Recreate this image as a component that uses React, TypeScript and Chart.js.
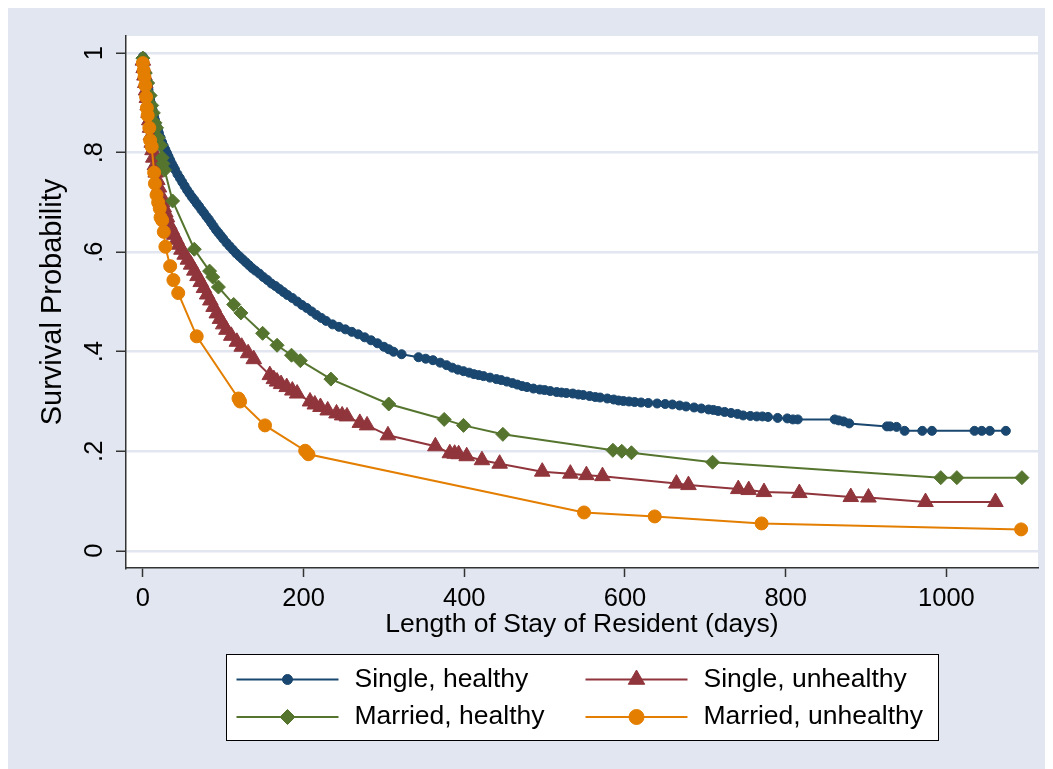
import React, { useEffect, useRef } from 'react';
import { Chart, registerables } from 'chart.js';

Chart.register(...registerables);

const FONT = "'Liberation Sans', Arial, Helvetica, sans-serif";

// ---- Axis ticks / titles ----
const xTicks = [0, 200, 400, 600, 800, 1000];
const yTicks = [0, 0.2, 0.4, 0.6, 0.8, 1];
const yTickLabels = ['0', '.2', '.4', '.6', '.8', '1'];
const xTitle = 'Length of Stay of Resident (days)';
const yTitle = 'Survival Probability';

// ---- Series names ----
const seriesNames = ['Single, healthy', 'Single, unhealthy', 'Married, healthy', 'Married, unhealthy'];

// ---- Single, healthy ----
const singleHealthyDays = [
  0, 1, 2, 3, 4, 5, 6, 7, 8, 9,
  10, 11, 12, 13, 14, 15, 16, 17, 18, 19,
  20, 22, 24, 26, 28, 30, 32, 34, 36, 38,
  40, 43, 46, 49, 52, 55, 58, 61, 64, 67,
  70, 73, 76, 79, 82, 85, 88, 91, 94, 97,
  100, 104, 108, 112, 116, 120, 124, 128, 132, 136,
  140, 145, 150, 155, 160, 165, 170, 175, 180, 186,
  192, 198, 204, 210, 216, 222, 228, 236, 244, 252,
  260, 268, 276, 284, 292, 300, 306, 312, 322, 343,
  352, 361, 370, 378, 385, 392, 399, 406, 412, 418,
  424, 432, 440, 446, 453, 460, 466, 472, 478, 486,
  494, 500, 507, 515, 521, 527, 535, 542, 548, 556,
  563, 569, 578, 586, 592, 598, 605, 612, 620, 629,
  640, 650, 659, 668, 676, 686, 695, 704, 710, 716,
  724, 732, 740, 747, 756, 764, 771, 778, 790, 802,
  809, 815, 861, 866, 872, 879, 926, 930, 938, 948,
  970, 982, 1035, 1044, 1054, 1074,
];
const singleHealthySurv = [
  0.993, 0.985, 0.975, 0.965, 0.955, 0.945, 0.935, 0.926, 0.917, 0.908,
  0.9, 0.893, 0.886, 0.879, 0.872, 0.866, 0.86, 0.854, 0.849, 0.844,
  0.839, 0.83, 0.821, 0.813, 0.806, 0.799, 0.792, 0.785, 0.778, 0.772,
  0.766, 0.757, 0.749, 0.741, 0.733, 0.725, 0.718, 0.711, 0.705, 0.698,
  0.692, 0.685, 0.679, 0.672, 0.666, 0.659, 0.652, 0.645, 0.639, 0.633,
  0.627, 0.619, 0.612, 0.605, 0.598, 0.592, 0.586, 0.58, 0.574, 0.568,
  0.563, 0.557, 0.55, 0.544, 0.537, 0.532, 0.526, 0.52, 0.514, 0.508,
  0.501, 0.494, 0.488, 0.481, 0.474, 0.468, 0.462, 0.455, 0.45, 0.445,
  0.44, 0.435, 0.429, 0.423, 0.417, 0.41, 0.405, 0.4, 0.395, 0.389,
  0.386, 0.383, 0.378, 0.373, 0.368, 0.364, 0.361, 0.358, 0.355, 0.353,
  0.351, 0.348, 0.345, 0.343, 0.34, 0.337, 0.334, 0.331, 0.329, 0.326,
  0.324, 0.323, 0.321, 0.319, 0.318, 0.317, 0.316, 0.314, 0.313, 0.311,
  0.309, 0.308, 0.306, 0.304, 0.302, 0.301, 0.3, 0.299, 0.298, 0.297,
  0.296, 0.295, 0.294, 0.292, 0.29, 0.288, 0.286, 0.284, 0.283, 0.281,
  0.279, 0.277, 0.275, 0.272, 0.271, 0.27, 0.27, 0.269, 0.267, 0.266,
  0.264, 0.264, 0.264, 0.262, 0.26, 0.256, 0.25, 0.25, 0.249, 0.241,
  0.241, 0.241, 0.241, 0.241, 0.241, 0.241,
];

// ---- Single, unhealthy ----
const singleUnhealthyDays = [
  0, 1, 2, 3, 4, 5, 6, 7, 8, 9, 10, 11, 12, 13,
  15, 16, 18, 20, 22, 24, 26, 28, 30,
  33, 36, 39, 42, 45, 48,
  52, 56, 60, 64, 68, 72, 76, 80, 84, 88, 92, 96, 100, 104,
  110, 117, 123, 131, 138,
  158, 163, 167, 172, 179, 186, 192,
  208, 214, 221, 230, 241, 248, 254,
  270, 279, 305,
  364, 382, 388, 393, 403, 422, 444,
  497, 532, 552, 572,
  664, 679, 741, 754, 773, 817,
  881, 903, 974, 1061,
];
const singleUnhealthySurv = [
  0.985, 0.97, 0.955, 0.94, 0.925, 0.91, 0.895, 0.88, 0.865, 0.85, 0.835, 0.82, 0.805, 0.79,
  0.775, 0.76, 0.745, 0.73, 0.715, 0.7, 0.69, 0.68, 0.67,
  0.655, 0.645, 0.635, 0.625, 0.615, 0.605,
  0.595, 0.585, 0.575, 0.563, 0.552, 0.54, 0.528, 0.515, 0.503, 0.49, 0.477, 0.466, 0.455, 0.444,
  0.432, 0.42, 0.41, 0.397, 0.385,
  0.353, 0.345, 0.34, 0.335, 0.329, 0.322, 0.316,
  0.3, 0.294, 0.289, 0.282, 0.276, 0.272, 0.27,
  0.257, 0.252, 0.232,
  0.21, 0.196, 0.195, 0.194, 0.19, 0.182, 0.175,
  0.159, 0.155, 0.152, 0.15,
  0.135, 0.132, 0.124, 0.122, 0.118, 0.116,
  0.108, 0.107, 0.098, 0.098,
];

// ---- Married, healthy ----
const marriedHealthyDays = [
  0, 3, 6, 9, 11, 13, 15, 17, 19, 22,
  24, 25, 27, 37, 64, 83, 87, 94, 113, 122,
  149, 167, 185, 196, 234, 306, 375, 399, 448, 585,
  596, 608, 709, 993, 1013, 1094,
];
const marriedHealthySurv = [
  0.99, 0.96, 0.94, 0.915, 0.895, 0.88, 0.86, 0.85, 0.83, 0.815,
  0.79, 0.778, 0.765, 0.703, 0.606, 0.562, 0.55, 0.53, 0.495, 0.478,
  0.437, 0.413, 0.393, 0.382, 0.345, 0.295, 0.264, 0.252, 0.234, 0.202,
  0.2, 0.197, 0.178, 0.147, 0.147, 0.147,
];

// ---- Married, unhealthy ----
const marriedUnhealthyDays = [
  0, 1, 2, 3, 4, 5, 6, 8, 9, 11,
  14, 15, 17, 19, 21, 22, 24, 26, 28, 34,
  38, 44, 67, 119, 121, 152, 202, 206, 549, 637,
  770, 1093,
];
const marriedUnhealthySurv = [
  0.98, 0.965, 0.952, 0.935, 0.912, 0.89, 0.875, 0.85, 0.825, 0.812,
  0.76, 0.738, 0.715, 0.7, 0.688, 0.67, 0.664, 0.641, 0.611, 0.572,
  0.544, 0.518, 0.431, 0.306, 0.3, 0.252, 0.201, 0.194, 0.077, 0.069,
  0.055, 0.043,
];

// ---- Styles ----
const BG = '#e1e6f0';
const seriesColors = ['#1a476f', '#90353b', '#55752f', '#e37e00'];
const seriesMarkers = ['circle', 'triangle', 'rectRot', 'circle'];
const seriesRadius = [4.5, 9, 7, 6.5];
const legendRadius = [5, 9.5, 7.5, 7.5];
const seriesDrawOrder = [3, 2, 1, 0];

const seriesDays = [singleHealthyDays, singleUnhealthyDays, marriedHealthyDays, marriedUnhealthyDays];
const seriesSurv = [singleHealthySurv, singleUnhealthySurv, marriedHealthySurv, marriedUnhealthySurv];

function drawMarker(ctx: CanvasRenderingContext2D, style: string, x: number, y: number, r: number, color: string) {
  ctx.beginPath();
  if (style === 'circle') {
    ctx.arc(x, y, r, 0, Math.PI * 2);
  } else if (style === 'triangle') {
    for (let k = 0; k < 3; k++) {
      const a = (k * 2 * Math.PI) / 3;
      const px = x + Math.sin(a) * r;
      const py = y - Math.cos(a) * r;
      if (k === 0) ctx.moveTo(px, py);
      else ctx.lineTo(px, py);
    }
  } else {
    ctx.moveTo(x, y - r);
    ctx.lineTo(x + r, y);
    ctx.lineTo(x, y + r);
    ctx.lineTo(x - r, y);
  }
  ctx.closePath();
  ctx.fillStyle = color;
  ctx.fill();
  ctx.strokeStyle = color;
  ctx.lineWidth = 1;
  ctx.stroke();
}

const backgroundPlugin = {
  id: 'stataBackground',
  beforeDraw(chart: any) {
    const { ctx, chartArea, width, height } = chart;
    ctx.save();
    ctx.fillStyle = BG;
    ctx.fillRect(0, 0, width, height);
    ctx.fillStyle = '#ffffff';
    ctx.fillRect(chartArea.left, chartArea.top, chartArea.right - chartArea.left, chartArea.bottom - chartArea.top);
    ctx.restore();
  },
};

const legendPlugin = {
  id: 'boxLegend',
  afterDraw(chart: any) {
    const { ctx, chartArea } = chart;
    const cx = (chartArea.left + chartArea.right) / 2;
    const boxW = 712;
    const boxH = 86;
    const left = Math.round(cx - boxW / 2) + 0.5;
    const top = Math.round(chartArea.bottom + 86) + 0.5;
    ctx.save();
    ctx.fillStyle = '#ffffff';
    ctx.fillRect(left, top, boxW, boxH);
    ctx.strokeStyle = '#000000';
    ctx.lineWidth = 1;
    ctx.strokeRect(left, top, boxW, boxH);
    const colX = [left + 10, left + 359];
    const rowY = [top + 25, top + 62.5];
    seriesNames.forEach((name, i) => {
      const x0 = colX[i % 2];
      const y0 = rowY[Math.floor(i / 2)];
      ctx.strokeStyle = seriesColors[i];
      ctx.lineWidth = 2;
      ctx.beginPath();
      ctx.moveTo(x0, y0);
      ctx.lineTo(x0 + 102, y0);
      ctx.stroke();
      drawMarker(ctx, seriesMarkers[i], x0 + 51, y0, legendRadius[i], seriesColors[i]);
      ctx.fillStyle = '#000000';
      ctx.font = `26.5px ${FONT}`;
      ctx.textAlign = 'left';
      ctx.textBaseline = 'middle';
      ctx.fillText(name, x0 + 118, y0);
    });
    ctx.restore();
  },
};

export default function App() {
  const canvasRef = useRef<HTMLCanvasElement | null>(null);

  useEffect(() => {
    document.documentElement.style.overflow = 'hidden';
    document.body.style.overflow = 'hidden';
    const canvas = canvasRef.current;
    if (!canvas) return;

    const datasets = seriesNames.map((name, i) => ({
      label: name,
      data: seriesDays[i].map((d, k) => ({ x: d, y: seriesSurv[i][k] })),
      borderColor: seriesColors[i],
      backgroundColor: seriesColors[i],
      pointBackgroundColor: seriesColors[i],
      pointBorderColor: seriesColors[i],
      borderWidth: 2,
      pointStyle: seriesMarkers[i],
      pointRadius: seriesRadius[i],
      pointBorderWidth: 1,
      tension: 0,
      order: seriesDrawOrder[i],
    }));

    const chart = new Chart(canvas, {
      type: 'line',
      data: { datasets } as any,
      plugins: [backgroundPlugin, legendPlugin],
      options: {
        responsive: false,
        animation: false,
        events: [],
        layout: { padding: { top: 28, right: 15, bottom: 121, left: 0 } },
        plugins: {
          legend: { display: false },
          tooltip: { enabled: false },
        },
        scales: {
          x: {
            type: 'linear',
            min: -21,
            max: 1114,
            afterBuildTicks: (s: any) => {
              s.ticks = xTicks.map((v) => ({ value: v }));
            },
            afterFit: (s: any) => {
              s.height = 80;
              s.paddingLeft = 0;
              s.paddingRight = 0;
            },
            ticks: {
              autoSkip: false,
              maxRotation: 0,
              minRotation: 0,
              padding: 7,
              color: '#000000',
              font: { family: FONT, size: 25.5 },
              callback: (v: any) => String(v),
            },
            grid: {
              display: true,
              drawOnChartArea: false,
              drawTicks: true,
              tickLength: 9,
              tickColor: '#333333',
              tickWidth: 1.5,
            },
            border: { display: true, color: '#333333', width: 1.5 },
            title: {
              display: true,
              text: xTitle,
              color: '#000000',
              font: { family: FONT, size: 26.5 },
              padding: { top: 0, bottom: 7 },
            },
          },
          y: {
            type: 'linear',
            min: -0.0346,
            max: 1.0345,
            afterBuildTicks: (s: any) => {
              s.ticks = yTicks.map((v) => ({ value: v }));
            },
            afterFit: (s: any) => {
              s.width = 118;
              s.paddingTop = 0;
              s.paddingBottom = 0;
            },
            ticks: {
              autoSkip: false,
              minRotation: 90,
              maxRotation: 90,
              crossAlign: 'center',
              padding: 10,
              color: '#000000',
              font: { family: FONT, size: 25.5 },
              callback: (_v: any, index: number) => yTickLabels[index],
            },
            grid: {
              display: true,
              drawOnChartArea: true,
              color: BG,
              lineWidth: 2.5,
              drawTicks: true,
              tickLength: 10,
              tickColor: '#333333',
              tickWidth: 1.5,
            },
            border: { display: true, color: '#333333', width: 1.5 },
            title: {
              display: true,
              text: yTitle,
              color: '#000000',
              font: { family: FONT, size: 29 },
              padding: { top: 28, bottom: 0 },
            },
          },
        },
      } as any,
    });

    return () => chart.destroy();
  }, []);

  return (
    <div style={{ width: 1045, height: 761 }}>
      <canvas ref={canvasRef} width={1045} height={761} style={{ display: 'block' }} />
    </div>
  );
}
